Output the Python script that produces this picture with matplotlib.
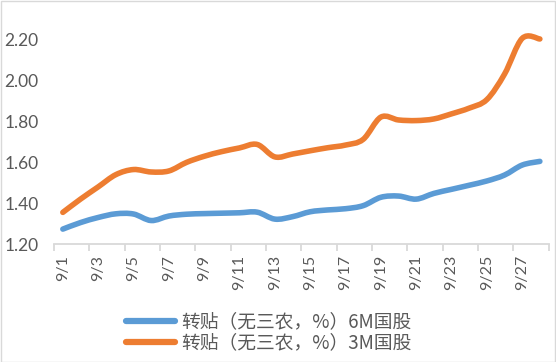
import matplotlib
matplotlib.use("Agg")
import matplotlib.pyplot as plt
from matplotlib.path import Path
from matplotlib.patches import PathPatch, Rectangle
from matplotlib.lines import Line2D
import numpy as np

plt.rcParams['font.family'] = ['Noto Sans CJK SC', 'DejaVu Sans']

dates = ["9/%d" % d for d in range(1, 29)]
series_6m = [1.273, 1.305, 1.330, 1.348, 1.347, 1.315, 1.337, 1.346, 1.349, 1.351,
             1.353, 1.356, 1.322, 1.334, 1.358, 1.367, 1.373, 1.388, 1.429, 1.435,
             1.420, 1.448, 1.468, 1.488, 1.509, 1.538, 1.587, 1.605]
series_3m = [1.355, 1.420, 1.480, 1.540, 1.565, 1.553, 1.558, 1.600, 1.630, 1.653,
             1.671, 1.688, 1.627, 1.641, 1.657, 1.672, 1.685, 1.713, 1.822, 1.808,
             1.805, 1.813, 1.838, 1.866, 1.908, 2.033, 2.208, 2.205]
label_6m = "转贴（无三农，%）6M国股"
label_3m = "转贴（无三农，%）3M国股"
yticks = [1.20, 1.40, 1.60, 1.80, 2.00, 2.20]

C6 = "#5B9BD5"
C3 = "#ED7D31"
TXT = "#595959"
GRID = "#D9D9D9"

W, H = 556, 362
fig = plt.figure(figsize=(W / 100, H / 100), dpi=100)
ax = fig.add_axes([54 / W, 118 / H, (548.7 - 54) / W, 214.2 / H])

def smooth_path(xs, ys):
    pts = np.column_stack([xs, ys]).astype(float)
    n = len(pts)
    verts = [pts[0]]
    codes = [Path.MOVETO]
    for i in range(n - 1):
        p0 = pts[i - 1] if i > 0 else pts[i]
        p1 = pts[i]
        p2 = pts[i + 1]
        p3 = pts[i + 2] if i + 2 < n else pts[i + 1]
        c1 = p1 + (p2 - p0) / 6.0
        c2 = p2 - (p3 - p1) / 6.0
        verts += [c1, c2, p2]
        codes += [Path.CURVE4] * 3
    return Path(verts, codes)

x = np.arange(len(dates))
for ys, col in [(series_6m, C6), (series_3m, C3)]:
    patch = PathPatch(smooth_path(x, ys), fill=False, edgecolor=col, lw=4.0,
                      capstyle='round', joinstyle='round', transform=ax.transData,
                      clip_on=False)
    ax.add_patch(patch)

ax.set_xlim(-0.5, len(dates) - 0.5)
ax.set_ylim(1.2, 2.25)

for s in ['left', 'right', 'top']:
    ax.spines[s].set_visible(False)
ax.spines['bottom'].set_color(GRID)
ax.spines['bottom'].set_linewidth(1.3)

ax.set_yticks(yticks)
ax.set_yticklabels(["%.2f" % v for v in yticks], fontsize=12.5, color=TXT,
                   family=['Lato', 'DejaVu Sans'])
ax.tick_params(axis='y', length=0, pad=11)

ax.set_xticks(np.arange(-0.5, len(dates), 2))
ax.set_xticklabels([])
ax.tick_params(axis='x', which='major', length=5, color=GRID, width=1.3, direction='out')
ax.set_xticks(x[::2], minor=True)
ax.set_xticklabels(dates[::2], minor=True, rotation=90, fontsize=11.5, color=TXT,
                   family=['Lato', 'DejaVu Sans'])
ax.tick_params(axis='x', which='minor', length=0, pad=8)

handles = [Line2D([0], [0], color=C6, lw=4.5, solid_capstyle='round'),
           Line2D([0], [0], color=C3, lw=4.5, solid_capstyle='round')]
leg = fig.legend(handles, [label_6m, label_3m], loc='center', bbox_to_anchor=(0.484, 0.081),
                 frameon=False, fontsize=13.5, labelcolor=TXT, handlelength=2.6,
                 handletextpad=0.35, labelspacing=0.0, borderpad=0)

fig.patches.append(Rectangle((0.5 / W, 0.5 / H), 1 - 1.5 / W, 1 - 1.5 / H, transform=fig.transFigure,
                             fill=False, edgecolor=GRID, lw=1.0))

fig.savefig("out.png", dpi=100)
